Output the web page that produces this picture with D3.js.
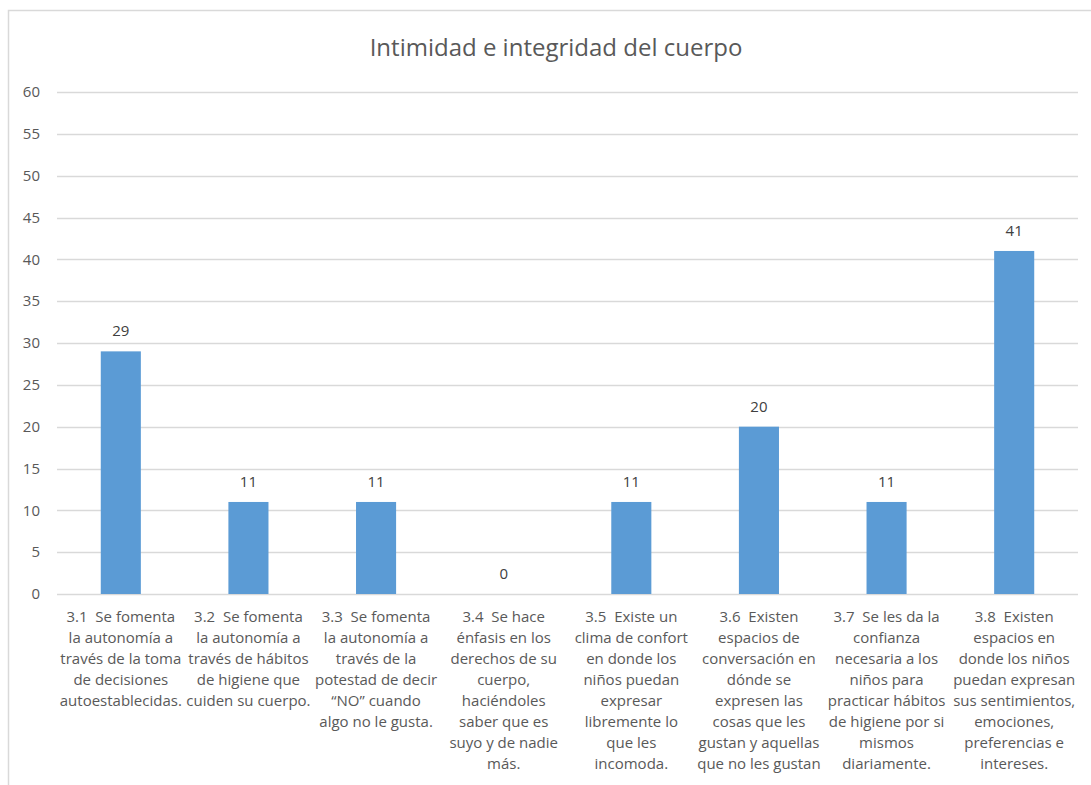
<!DOCTYPE html>
<html>
<head>
<meta charset="utf-8">
<script src="https://cdn.jsdelivr.net/npm/d3@7"></script>
<style>
  html, body { margin: 0; padding: 0; background: #fff; }
  svg { display: block; font-family: "Open Sans", "Noto Sans", sans-serif; }
</style>
</head>
<body>
<svg id="chart" width="1091" height="785"></svg>
<script>
const title = "Intimidad e integridad del cuerpo";
const categories = ["3.1", "3.2", "3.3", "3.4", "3.5", "3.6", "3.7", "3.8"];
const categoryLabels = [
  ["3.1\u00a0 Se fomenta", "la autonomía a", "través de la toma", "de decisiones", "autoestablecidas."],
  ["3.2\u00a0 Se fomenta", "la autonomía a", "través de hábitos", "de higiene que", "cuiden su cuerpo."],
  ["3.3\u00a0 Se fomenta", "la autonomía a", "través de la", "potestad de decir", "“NO” cuando", "algo no le gusta."],
  ["3.4\u00a0 Se hace", "énfasis en los", "derechos de su", "cuerpo,", "haciéndoles", "saber que es", "suyo y de nadie", "más."],
  ["3.5\u00a0 Existe un", "clima de confort", "en donde los", "niños puedan", "expresar", "libremente lo", "que les", "incomoda."],
  ["3.6\u00a0 Existen", "espacios de", "conversación en", "dónde se", "expresen las", "cosas que les", "gustan y aquellas", "que no les gustan"],
  ["3.7\u00a0 Se les da la", "confianza", "necesaria a los", "niños para", "practicar hábitos", "de higiene por si", "mismos", "diariamente."],
  ["3.8\u00a0 Existen", "espacios en", "donde los niños", "puedan expresan", "sus sentimientos,", "emociones,", "preferencias e", "intereses."]
];
const values = [29, 11, 11, 0, 11, 20, 11, 41];
const yTicks = [0, 5, 10, 15, 20, 25, 30, 35, 40, 45, 50, 55, 60];

const svg = d3.select("#chart");
const plot = { left: 57, right: 1078, top: 92, bottom: 594 };

// chart border
svg.append("rect").attr("x", 8.5).attr("y", 10.5).attr("width", 1100).attr("height", 800)
  .attr("fill", "#fff").attr("stroke", "#d9d9d9").attr("stroke-width", 1.5);

const x = d3.scaleBand().domain(categories).range([plot.left, plot.right]).paddingInner(0.686).paddingOuter(0.343);
const y = d3.scaleLinear().domain([0, 60]).range([plot.bottom, plot.top]);

// title
svg.append("text").attr("x", 556).attr("y", 56).attr("text-anchor", "middle")
  .attr("font-size", 24).attr("fill", "#595959").text(title);

// gridlines
svg.append("g").selectAll("line").data(yTicks).join("line")
  .attr("x1", plot.left).attr("x2", plot.right)
  .attr("y1", d => Math.round(y(d)) + 0.5).attr("y2", d => Math.round(y(d)) + 0.5)
  .attr("stroke", "#d9d9d9").attr("stroke-width", 1.3);

// y axis labels
const yAxis = d3.axisLeft(y).tickValues(yTicks).tickSize(0).tickPadding(0);
const ya = svg.append("g").attr("transform", `translate(40,0)`).call(yAxis);
ya.select(".domain").remove();
ya.selectAll("text").attr("font-size", 15).attr("fill", "#595959")
  .attr("font-family", "'Open Sans', sans-serif");

// bars
svg.append("g").selectAll("rect").data(values).join("rect")
  .attr("x", (d, i) => x(categories[i]))
  .attr("width", x.bandwidth())
  .attr("y", d => y(d))
  .attr("height", d => y(0) - y(d))
  .attr("fill", "#5b9bd5");

// value labels
svg.append("g").selectAll("text").data(values).join("text")
  .attr("x", (d, i) => x(categories[i]) + x.bandwidth() / 2)
  .attr("y", d => y(d) - 15)
  .attr("text-anchor", "middle").attr("font-size", 15).attr("fill", "#404040")
  .text(d => d);

// category labels
const cg = svg.append("g");
categoryLabels.forEach((lines, i) => {
  const cx = x(categories[i]) + x.bandwidth() / 2;
  const t = cg.append("text").attr("x", cx).attr("y", 622).attr("text-anchor", "middle")
    .attr("font-size", 15).attr("fill", "#595959");
  lines.forEach((ln, j) => {
    t.append("tspan").attr("x", cx).attr("dy", j === 0 ? 0 : 21).text(ln);
  });
});
</script>
</body>
</html>
